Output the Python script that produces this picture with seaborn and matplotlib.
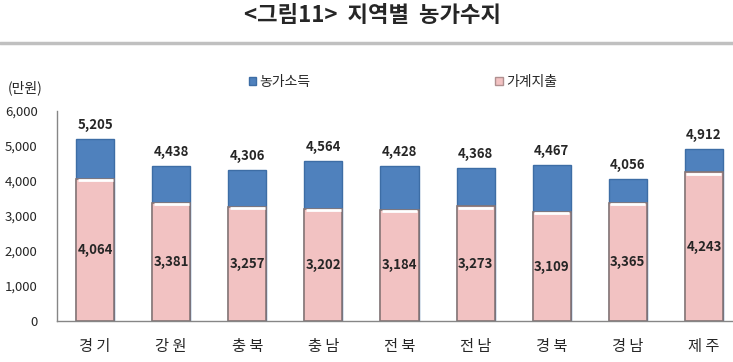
import numpy as np
import pandas as pd
import matplotlib
matplotlib.use("Agg")
import matplotlib.pyplot as plt
import seaborn as sns
from matplotlib.patches import Patch
from matplotlib.ticker import FuncFormatter, FixedLocator

# 지역별 농가수지 (만원)
regions = ["경 기", "강 원", "충 북", "충 남", "전 북", "전 남", "경 북", "경 남", "제 주"]
income = [5205, 4438, 4306, 4564, 4428, 4368, 4467, 4056, 4912]     # 농가소득
spending = [4064, 3381, 3257, 3202, 3184, 3273, 3109, 3365, 4243]   # 가계지출

blue = "#4f81bd"
pink = "#f2c2c2"

sns.set_style("white")
plt.rcParams["font.family"] = ["Noto Sans CJK KR", "DejaVu Sans"]

df = pd.DataFrame({"region": regions, "income": income, "spending": spending})

fig = plt.figure(figsize=(7.33, 3.62), dpi=100)
ax = fig.add_axes([57 / 733, 41 / 362, 685 / 733, 210 / 362])

sns.barplot(data=df, x="region", y="income", color=blue, width=0.5,
            edgecolor="#3d6da5", linewidth=1, saturation=1, ax=ax)
sns.barplot(data=df, x="region", y="spending", color=pink, width=0.5,
            edgecolor="#857575", linewidth=1.2, saturation=1, ax=ax)

# 가계지출 막대 윗면의 흰 하이라이트
for p in ax.patches[len(regions):]:
    x0 = p.get_x()
    ax.plot([x0 + 0.02, x0 + p.get_width() - 0.02], [p.get_height() - 35] * 2,
            color="white", lw=2, solid_capstyle="butt", zorder=5)

ax.set_xlim(-0.5, 8.5)
ax.set_ylim(0, 6000)
ax.set_xlabel("")
ax.set_ylabel("")
ax.set_yticks(range(0, 6001, 1000))
ax.yaxis.set_major_formatter(FuncFormatter(lambda v, _: f"{int(v):,}"))
ax.tick_params(axis="y", length=4, width=1, color="#868686", pad=10, labelsize=9.5)
ax.tick_params(axis="x", length=0, pad=12, labelsize=11)
ax.xaxis.set_minor_locator(FixedLocator(np.arange(0.5, 8.5, 1)))
ax.tick_params(axis="x", which="minor", direction="in", length=4, color="#868686")

for s in ["top", "right"]:
    ax.spines[s].set_visible(False)
for s in ["left", "bottom"]:
    ax.spines[s].set_color("#868686")
    ax.spines[s].set_linewidth(1)

for i, (tot, sp) in enumerate(zip(income, spending)):
    ax.annotate(f"{tot:,}", (i, tot), xytext=(0, 5), textcoords="offset points",
                ha="center", va="bottom", fontsize=9.5, fontweight="bold")
    ax.text(i, sp / 2, f"{sp:,}", ha="center", va="center",
            fontsize=9.5, fontweight="bold")

# 제목과 구분선
fig.text(372 / 733, 1 - 16 / 362, "<그림11>  지역별  농가수지", ha="center", va="center",
         fontsize=16, fontweight="heavy")
fig.add_artist(plt.Line2D([0, 1], [1 - 43 / 362] * 2, color="#c0c0c0", lw=2.5))
fig.text(8 / 733, 1 - 88 / 362, "(만원)", ha="left", va="center", fontsize=10)

handles = [Patch(facecolor=blue, edgecolor="#3d6da5"), Patch(facecolor=pink, edgecolor="#b09090")]
fig.legend(handles, ["농가소득", "가계지출"], ncol=2, loc="center left",
           bbox_to_anchor=(236 / 733, 1 - 82 / 362), frameon=False, fontsize=10,
           handlelength=0.55, handleheight=0.55, handletextpad=0.25, columnspacing=13.3)

fig.savefig("out.png", dpi=100)
